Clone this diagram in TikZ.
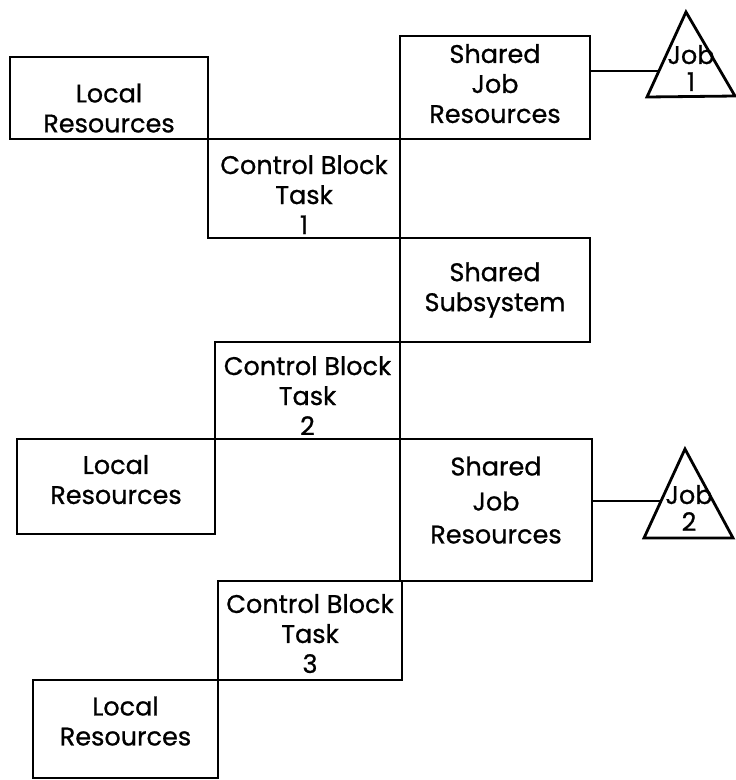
\documentclass[tikz,border=0pt]{standalone}
\usepackage{fontspec}
\setmainfont{Poppins}[FakeBold=0.8]
\usetikzlibrary{positioning}
\newcommand{\padtop}[1]{\rule{0pt}{#1}}
\newcommand{\padbot}[1]{\rule[-#1]{0pt}{#1}}

\begin{document}
\begin{tikzpicture}[x=1pt,y=-1pt,
  box/.style={draw,line width=2.8pt,inner sep=0pt,align=center,font=\fontsize{25.5}{30}\selectfont},
  lbl/.style={inner sep=0pt,align=center,font=\fontsize{25.5}{27}\selectfont},
  tri/.style={draw,line width=2.8pt,line join=miter}]
\useasboundingbox (0,0) rectangle (736,780);
\node[box,minimum width=198pt,minimum height=82pt] (loc1) at (109,98) {\padtop{39pt}Local\\Resources};
\node[box,minimum width=192pt,minimum height=99pt] (cb1) at (304,188.5) {\padtop{31pt}Control Block\\Task\\1};
\node[box,minimum width=190pt,minimum height=103pt] (sjr1) at (495,87.5) {Shared\\Job\\Resources\padbot{8pt}};
\node[box,minimum width=190pt,minimum height=104pt] (ss) at (495,290) {Shared\\Subsystem};
\node[box,minimum width=185pt,minimum height=97pt] (cb2) at (307.5,390.5) {\padtop{29pt}Control Block\\Task\\2};
\node[box,minimum width=198pt,minimum height=95pt] (loc2) at (116,486.5) {Local\\Resources\padbot{14pt}};
\node[box,minimum width=192pt,minimum height=142pt] (sjr2) at (496,510) {Shared\\[5pt]Job\\[3pt]Resources\padbot{20pt}};
\node[box,minimum width=184pt,minimum height=99pt] (cb3) at (310,630.5) {\padtop{25pt}Control Block\\Task\\3};
\node[box,minimum width=185pt,minimum height=98pt] (loc3) at (125.5,729) {Local\\Resources\padbot{16pt}};
\coordinate (t1a) at (686,12);
\coordinate (t1l) at (647,97);
\coordinate (t1r) at (735,96);
\coordinate (t1w) at (659,71);
\draw[tri] (t1a) -- (t1l) -- (t1r) -- cycle;
\node[lbl] (job1) at (691,68) {Job\\1};
\coordinate (t2a) at (685,449);
\coordinate (t2l) at (644,538);
\coordinate (t2r) at (733,538);
\coordinate (t2w) at (661,501);
\draw[tri] (t2a) -- (t2l) -- (t2r) -- cycle;
\node[lbl] (job2) at (689,508) {Job\\2};
\draw[line width=2.2pt] (t1w -| sjr1.east) -- (t1w);
\draw[line width=2.2pt] (t2w -| sjr2.east) -- (t2w);
\end{tikzpicture}
\end{document}
